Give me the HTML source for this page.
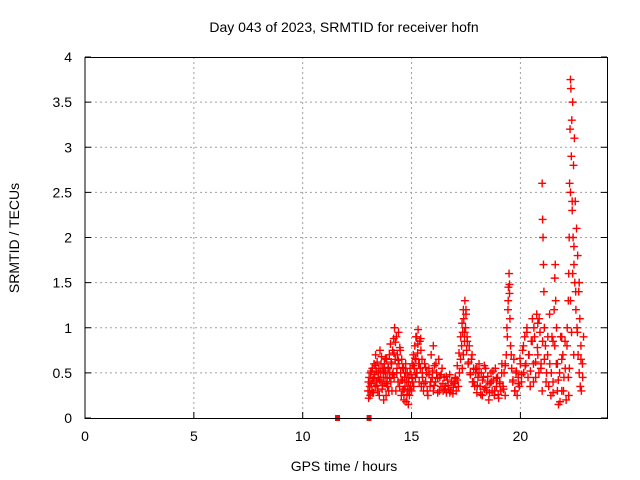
<!DOCTYPE html>
<html><head><meta charset="utf-8"><style>
body{margin:0;background:#fff;}
svg{display:block;font-family:"Liberation Sans",sans-serif;}
</style></head><body>
<svg id="chart" width="640" height="480" viewBox="0 0 640 480">
<rect width="640" height="480" fill="#fff"/>
<text x="344" y="32" font-size="14" text-anchor="middle">Day 043 of 2023, SRMTID for receiver hofn</text>
<text x="344" y="471" font-size="14" text-anchor="middle">GPS time / hours</text>
<text transform="translate(19,238) rotate(-90)" font-size="14" text-anchor="middle">SRMTID / TECUs</text>
<g id="grid"></g>
<g id="ticks"></g>
<g id="marks"></g>
<rect x="85" y="57.5" width="522.5" height="361" fill="none" stroke="#000" stroke-width="1"/>
</svg>
<script>
const xTicks=[0,5,10,15,20];
const yTicks=[0,0.5,1,1.5,2,2.5,3,3.5,4];
const yTickLabels=["0","0.5","1","1.5","2","2.5","3","3.5","4"];
const squareTimes=[11.6,13.05];
const squareValues=[0,0];
const times=[13.0,13.03,13.05,13.08,13.1,13.12,13.15,13.18,13.2,13.22,13.25,13.28,13.3,13.33,13.35,13.38,13.4,13.42,13.45,13.48,13.5,13.52,13.55,13.58,13.6,13.62,13.65,13.68,13.7,13.72,13.75,13.78,13.8,13.83,13.85,13.88,13.9,13.93,13.95,13.98,14.0,14.03,14.05,14.08,14.1,14.13,14.15,14.18,14.2,14.22,14.25,14.28,14.3,14.33,14.35,14.38,14.4,14.42,14.45,14.48,14.5,14.53,14.55,14.58,14.6,14.63,14.65,14.68,14.7,14.73,14.75,14.78,14.8,14.83,14.85,14.88,14.9,14.93,14.95,14.98,15.0,15.03,15.05,15.08,15.1,15.13,15.15,15.18,15.2,15.23,15.25,15.28,15.3,15.33,15.35,15.38,15.4,15.43,15.45,15.48,15.5,15.55,15.6,15.65,15.7,15.75,15.8,15.85,15.9,15.95,16.0,16.05,16.1,16.15,16.2,16.25,16.3,16.35,16.4,16.45,16.5,16.55,16.6,16.65,16.7,16.75,16.8,16.85,16.9,16.95,17.0,17.05,17.1,17.15,17.2,17.25,17.3,17.33,17.35,17.38,17.4,17.43,17.45,17.48,17.5,17.53,17.55,17.6,17.65,17.7,17.75,17.8,17.85,17.9,17.95,18.0,18.05,18.1,18.15,18.2,18.25,18.3,18.35,18.4,18.45,18.5,18.55,18.6,18.65,18.7,18.75,18.8,18.85,18.9,18.95,19.0,19.05,19.1,19.15,19.2,19.25,19.3,19.35,19.4,19.43,19.45,19.48,19.5,19.52,19.55,19.6,19.65,19.7,19.75,19.8,19.85,19.9,19.95,20.0,20.05,20.1,20.15,20.2,20.25,20.3,20.35,20.4,20.45,20.5,20.55,20.6,20.65,20.7,20.75,20.8,20.85,20.9,20.95,21.0,21.02,21.04,21.06,21.08,21.1,21.15,21.2,21.25,21.3,21.35,21.4,21.45,21.5,21.55,21.58,21.6,21.62,21.65,21.7,21.75,21.8,21.85,21.9,21.95,22.0,22.05,22.1,22.15,22.2,22.22,22.24,22.26,22.28,22.3,22.32,22.34,22.36,22.38,22.4,22.42,22.44,22.46,22.48,22.5,22.52,22.55,22.58,22.6,22.63,22.65,22.68,22.7,22.73,22.75,22.78,22.8,22.85,22.9,22.2,22.25,22.3,22.35,22.4,22.45,21.5,21.7,21.9,20.6,20.8,21.0,19.3,18.0,17.0,16.0,15.2,14.3];
const values=[0.3,0.22,0.45,0.35,0.25,0.5,0.38,0.3,0.55,0.42,0.28,0.6,0.48,0.35,0.7,0.52,0.4,0.62,0.3,0.45,0.55,0.25,0.75,0.5,0.4,0.68,0.32,0.55,0.45,0.2,0.6,0.4,0.5,0.25,0.65,0.45,0.35,0.55,0.3,0.7,0.5,0.82,0.4,0.6,0.3,0.75,0.5,0.88,0.45,1.0,0.65,0.3,0.9,0.55,0.7,0.4,0.95,0.6,0.35,0.75,0.5,0.25,0.65,0.42,0.3,0.55,0.2,0.45,0.35,0.6,0.18,0.4,0.5,0.3,0.15,0.45,0.25,0.55,0.35,0.48,0.3,0.6,0.4,0.7,0.35,0.55,0.8,0.45,0.65,0.9,0.5,0.72,0.98,0.6,0.4,0.85,0.55,0.75,0.35,0.65,0.45,0.3,0.6,0.4,0.5,0.25,0.55,0.35,0.7,0.45,0.3,0.58,0.4,0.5,0.28,0.65,0.45,0.35,0.55,0.3,0.45,0.35,0.28,0.42,0.32,0.48,0.3,0.4,0.27,0.38,0.45,0.3,0.42,0.35,0.5,0.65,0.8,0.55,0.95,0.7,1.1,0.85,1.3,1.0,1.2,0.75,0.9,0.6,0.8,0.5,0.65,0.4,0.55,0.35,0.5,0.28,0.45,0.6,0.35,0.5,0.25,0.45,0.32,0.55,0.3,0.4,0.2,0.38,0.5,0.3,0.42,0.25,0.55,0.35,0.45,0.22,0.4,0.3,0.6,0.35,0.5,0.25,0.7,0.9,1.2,1.45,1.6,1.38,1.1,0.8,0.55,0.4,0.65,0.3,0.5,0.25,0.45,0.35,0.6,0.4,0.75,0.5,0.9,0.6,1.0,0.45,0.7,0.35,0.85,1.1,0.6,0.9,0.45,1.15,0.7,0.5,0.95,0.6,2.6,2.2,2.0,1.7,1.4,1.0,0.8,0.5,0.7,0.35,0.6,0.25,0.9,0.4,1.2,1.55,1.7,1.3,0.6,0.3,0.15,0.5,0.9,0.3,0.7,0.45,0.85,0.2,1.0,1.3,1.6,2.0,2.6,3.2,3.75,3.65,2.9,3.3,2.4,3.5,2.0,2.8,1.7,3.1,1.5,2.4,1.2,2.1,1.0,1.8,0.7,1.4,0.5,1.1,0.35,0.8,0.3,0.6,0.9,0.45,0.55,1.3,0.95,1.6,0.7,0.85,0.6,0.9,0.4,1.05,0.3,0.6,0.55,0.4,0.8,0.9];
const times2=[13.02,13.07,13.14,13.21,13.27,13.34,13.41,13.47,13.53,13.6,13.67,13.73,13.8,13.86,13.92,13.99,14.06,14.12,14.19,14.26,14.32,14.39,14.46,14.52,14.59,14.66,14.72,14.79,14.86,14.92,15.02,15.09,15.16,15.22,15.29,15.36,15.42,15.49,15.57,15.64,15.72,15.8,15.88,15.96,16.04,16.12,16.2,16.28,16.36,16.44,16.52,16.6,16.68,16.76,16.84,16.92,17.02,17.1,17.18,17.26,17.32,17.38,17.44,17.5,17.56,17.62,17.7,17.78,17.86,17.94,18.02,18.1,18.18,18.26,18.34,18.42,18.5,18.58,18.66,18.74,18.82,18.9,18.98,19.06,19.14,19.22,19.3,19.38,19.44,19.5,19.58,19.66,19.74,19.82,19.9,19.98,20.06,20.14,20.22,20.3,20.38,20.46,20.54,20.62,20.7,20.78,20.86,20.94,21.02,21.1,21.18,21.26,21.34,21.42,21.5,21.58,21.66,21.74,21.82,21.9,21.98,22.06,22.14,22.22,22.3,22.38,22.46,22.54,22.62,22.7,22.78,22.86];
const values2=[0.4,0.3,0.52,0.28,0.44,0.58,0.36,0.5,0.42,0.6,0.36,0.52,0.66,0.38,0.56,0.44,0.62,0.48,0.72,0.84,0.5,0.64,0.78,0.42,0.56,0.32,0.5,0.26,0.4,0.32,0.44,0.58,0.66,0.5,0.82,0.6,0.88,0.5,0.38,0.56,0.3,0.48,0.4,0.52,0.36,0.6,0.44,0.3,0.48,0.38,0.32,0.46,0.36,0.28,0.4,0.34,0.44,0.58,0.72,0.9,1.05,1.2,0.95,1.15,0.85,0.62,0.48,0.7,0.4,0.54,0.36,0.5,0.26,0.42,0.58,0.34,0.46,0.28,0.4,0.52,0.3,0.44,0.26,0.38,0.5,0.32,0.58,1.0,1.3,1.48,0.7,0.42,0.3,0.52,0.38,0.66,0.48,0.8,0.58,0.95,0.7,0.52,0.85,1.0,0.62,0.78,1.1,0.55,0.85,0.65,0.4,0.9,1.15,0.5,0.28,0.8,1.0,0.42,0.18,0.65,0.3,0.55,0.8,0.25,2.5,2.3,1.9,1.4,0.95,1.5,0.65,0.45];
const X=t=>85+t*21.77, Y=v=>418-v*90.25;
const NS="http://www.w3.org/2000/svg";
const grid=document.getElementById('grid'),ticks=document.getElementById('ticks'),marks=document.getElementById('marks');
function mk(tag,attrs,parent){const e=document.createElementNS(NS,tag);for(const k in attrs)e.setAttribute(k,attrs[k]);parent.appendChild(e);return e;}
xTicks.forEach(t=>{
 const x=X(t);
 if(t>0){const g=mk('line',{x1:x,x2:x,y1:57,y2:418,stroke:'#a0a0a0','stroke-dasharray':'2,3'},grid);
 
 }
 mk('line',{x1:x,x2:x,y1:418,y2:412,stroke:'#000'},ticks);
 const l=mk('text',{x:x,y:441,'font-size':14,'text-anchor':'middle'},ticks);l.textContent=t;
 
 
});
yTicks.forEach((v,i)=>{
 const y=Y(v);
 if(v>0&&v<4){const g=mk('line',{x1:85,x2:607,y1:y,y2:y,stroke:'#a0a0a0','stroke-dasharray':'2,3'},grid);
 
 }
 mk('line',{x1:85,x2:91,y1:y,y2:y,stroke:'#000'},ticks);
 mk('line',{x1:601,x2:607,y1:y,y2:y,stroke:'#000'},ticks);
 const l=mk('text',{x:72,y:y+5,'font-size':14,'text-anchor':'end'},ticks);l.textContent=yTickLabels[i];
 
 
});
function plus(t,v){
 const x=X(t),y=Y(v);
 const p=mk('path',{d:`M${x-4} ${y}H${x+4}M${x} ${y-4}V${y+4}`,stroke:'#ff0000','stroke-width':1.4,fill:'none'},marks);
 
 
}
times.forEach((t,i)=>plus(t,values[i]));
times2.forEach((t,i)=>plus(t,values2[i]));
squareTimes.forEach((t,i)=>{
 const s=mk('rect',{x:X(t)-2.5,y:Y(squareValues[i])-3,width:5,height:6,fill:'#ff0000'},marks);
 
 
});
</script>
</body></html>
